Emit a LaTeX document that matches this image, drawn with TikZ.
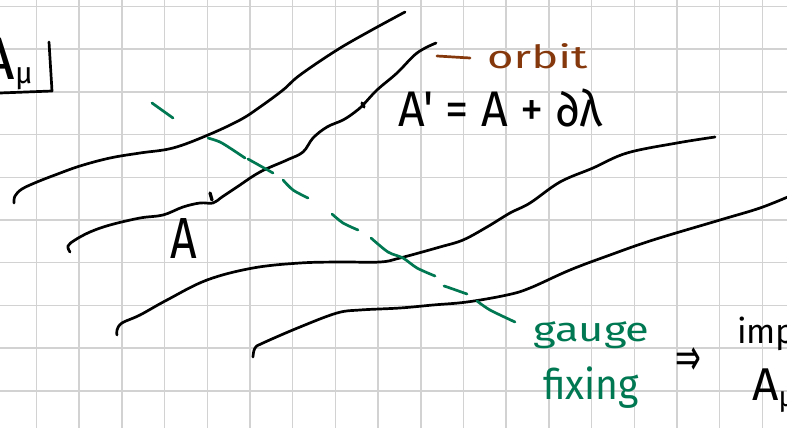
\documentclass[tikz,border=0pt]{standalone}
\usepackage{fontspec}
\newfontfamily\hand{Fira Sans}
\newfontfamily\symf{DejaVu Sans}
\definecolor{gridgray}{RGB}{210,210,210}
\definecolor{gfix}{RGB}{0,120,82}
\definecolor{orb}{RGB}{132,56,12}
\begin{document}
\begin{tikzpicture}[x=1pt,y=-1pt,
  gridline/.style={draw=gridgray,line width=1.5pt},
  ink/.style={line width=2.7pt,line cap=round,line join=round},
  gdash/.style={ink,draw=gfix},
  txt/.style={inner sep=0pt,anchor=base west},
  fs/.style={font=\hand\fontsize{#1}{#1}\selectfont}]
\useasboundingbox (0,0) rectangle (787,428);
\fill[white] (0,0) rectangle (787,428);
% grid
\foreach \k in {0,...,17} \draw[gridline] ({36.5+42.7*\k},0) -- ({36.5+42.7*\k},428);
\foreach \k in {0,...,9} \draw[gridline] (0,{6.5+42.7*\k}) -- (787,{6.5+42.7*\k});
% orbits
\draw[ink] plot[smooth,tension=0.6] coordinates {(14,203) (15,196) (22,189) (37,182) (55,175) (80,166) (110,158) (140,153) (173,148) (208,135) (240,120) (260,107) (283,90) (300,75) (337,50) (370,31) (405,12)};
\draw[ink] plot[smooth,tension=0.6] coordinates {(70,252) (68,246) (75,240) (90,232) (110,225) (140,218) (163,215) (183,207) (200,203) (213,203) (222,197) (237,187) (260,172) (287,160) (303,152) (313,138) (327,127) (343,120) (355,112) (363,105) (377,90) (397,73) (417,53) (436,43)};
\draw[ink] plot[smooth,tension=0.6] coordinates {(117,335) (117,330) (122,323) (140,315) (167,300) (207,280) (253,268) (300,263) (340,262) (380,262) (400,258) (440,247) (463,240) (487,227) (510,213) (530,203) (560,182) (593,168) (627,153) (677,143) (715,137)};
\draw[ink] plot[smooth,tension=0.6] coordinates {(253,357) (255,348) (263,343) (300,327) (337,313) (360,310) (400,308) (433,305) (467,302) (507,295) (530,288) (570,270) (610,255) (653,240) (720,220) (760,208) (790,196)};
% marks on orbit
\draw[ink,line width=3.3pt] (210,193) -- (212,200);
\draw[ink,line width=3.3pt] (362,103) -- (364,107);
% gauge fixing dashed line
\draw[gdash] (152,103) -- (173,118);
\draw[gdash] plot[smooth] coordinates {(208,138) (220,142) (233,150) (245,158)};
\draw[gdash] (248,159) -- (273,173);
\draw[gdash] plot[smooth] coordinates {(283,180) (293,190) (308,198)};
\draw[gdash] plot[smooth] coordinates {(332,214) (343,223) (358,230)};
\draw[gdash] plot[smooth] coordinates {(371,238) (388,252) (403,258) (417,268) (435,276)};
\draw[gdash] plot[smooth] coordinates {(444,286) (450,288) (467,294)};
\draw[gdash] plot[smooth] coordinates {(477,301) (490,310) (515,322)};
% top-left A_mu with bracket
\node[txt,anchor=base east,fs=60] (amu1) at (15,80) {A};
\node[txt,fs=30] (mu1) at (15,84) {μ};
\coordinate (brtop) at (49,42);
\coordinate (brbot) at (52,91);
\coordinate (brleft) at (0,93);
\draw[ink] (brtop) -- (brbot) -- (brleft);
% orbit label
\coordinate (ob1) at (437,56);
\coordinate (ob2) at (470,58);
\draw[ink,draw=orb] (ob1) -- (ob2);
\node[txt,fs=32,text=orb] (orbit) at (487,68) {\scalebox{1.42}[1]{orbit}};
% equation
\node[txt,fs=50] (eq) at (398,126) {\scalebox{0.93}[1]{A' = A + ∂λ}};
\node[txt,fs=58] (A) at (170,258) {\scalebox{0.8}[1]{A}};
% gauge fixing
\node[txt,fs=34,text=gfix] (gauge) at (533,341) {\scalebox{1.28}[1]{gauge}};
\node[txt,fs=42,text=gfix] (fixing) at (543,399) {\scalebox{0.93}[1]{fixing}};
\node[inner sep=0pt,font=\symf\fontsize{44}{44}\selectfont] (imp) at (688,362) {\scalebox{0.7}[1.2]{⇒}};
\node[txt,fs=34] (impl) at (737,343) {imp};
\node[txt,fs=46] (amu2) at (752,400) {A\raisebox{-6pt}{\fontsize{28}{28}\selectfont μ}};
\end{tikzpicture}
\end{document}
